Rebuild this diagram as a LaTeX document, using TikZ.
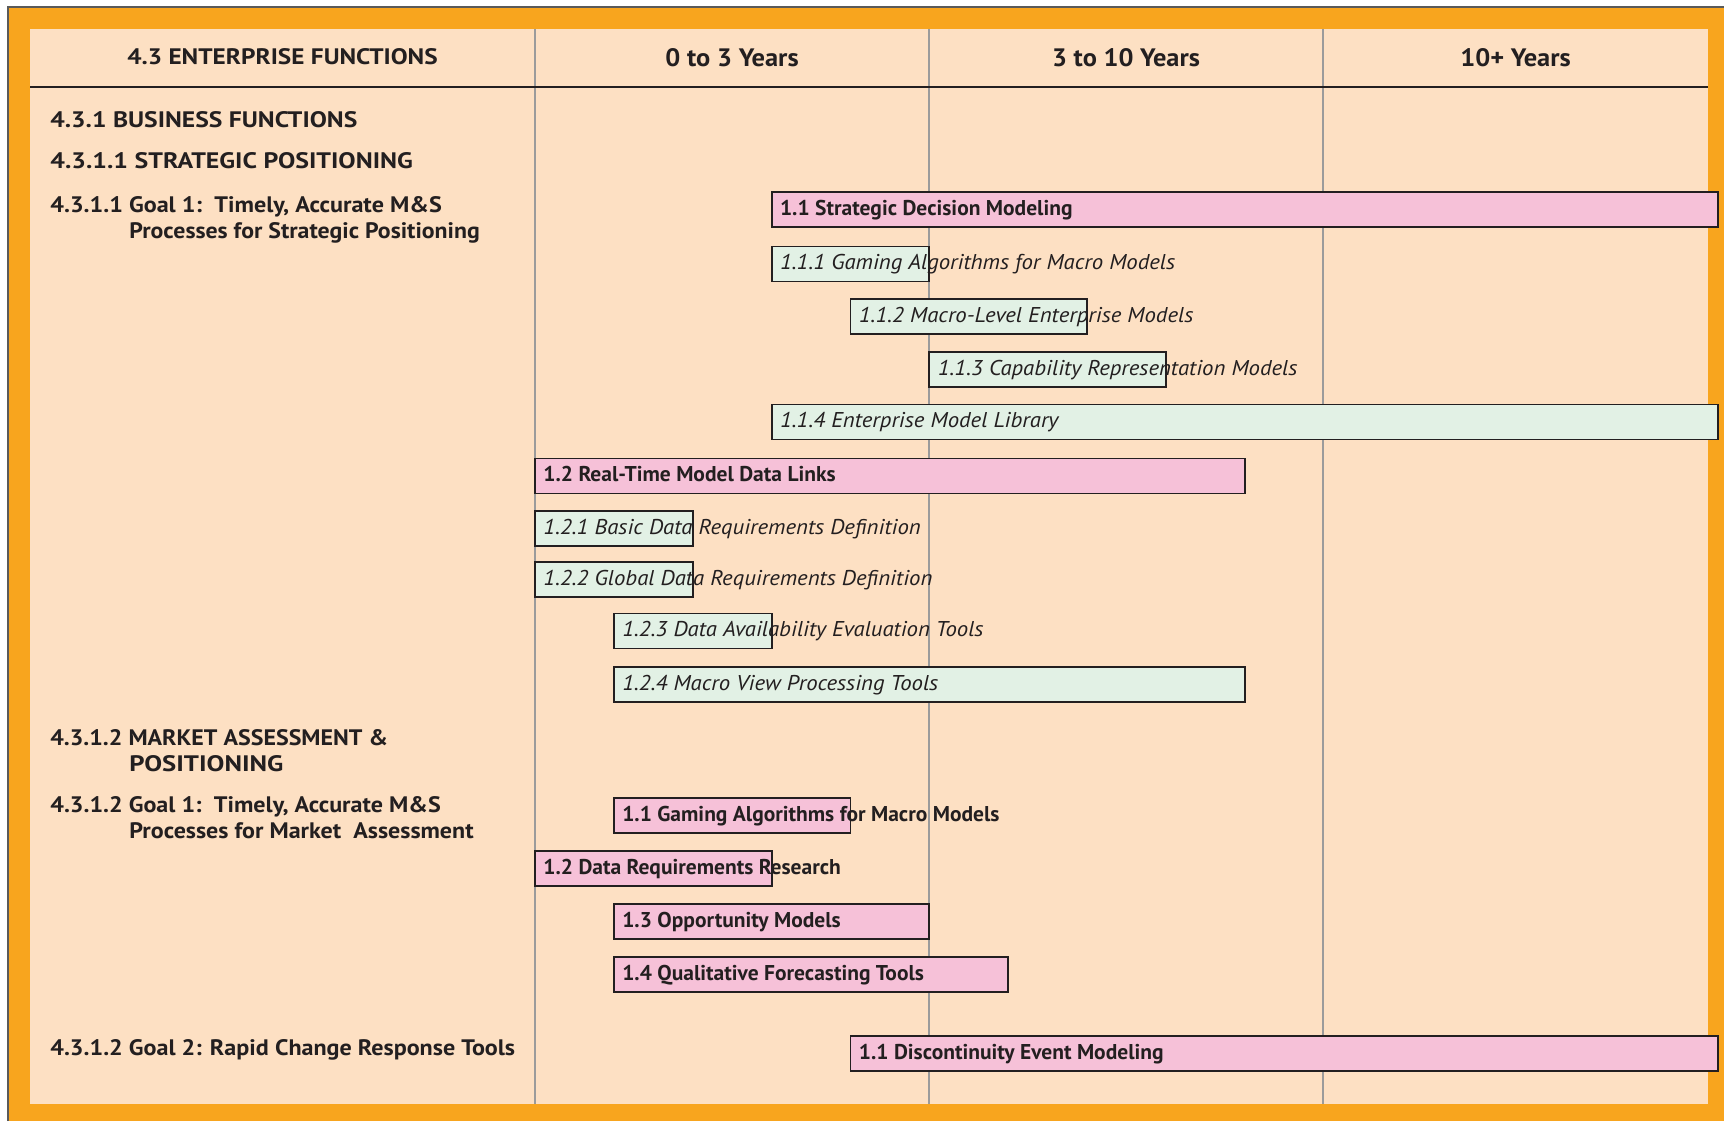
\documentclass[tikz,border=0pt]{standalone}
\usepackage{graphicx}
\usepackage{fontspec}
\setmainfont{PT Sans}
\definecolor{orng}{HTML}{F8A51E}
\definecolor{cream}{HTML}{FDE0C3}
\definecolor{pinkf}{HTML}{F6C1D8}
\definecolor{greenf}{HTML}{E2F1E5}
\definecolor{ink}{HTML}{231F20}
\definecolor{divgray}{HTML}{9B9B9B}
\definecolor{framegray}{HTML}{5A5A5A}
\tikzset{
  barbase/.style={draw=ink, line width=0.9pt, inner sep=0pt, outer sep=0pt, minimum height=17.5pt, anchor=north west},
  pinkbar/.style={barbase, fill=pinkf},
  greenbar/.style={barbase, fill=greenf},
  pinkbartxt/.style={anchor=base west, inner sep=0pt, text=ink, font=\fontsize{10.7}{12}\selectfont\bfseries},
  greenbartxt/.style={anchor=base west, inner sep=0pt, text=ink, font=\fontsize{10.7}{12}\selectfont\itshape},
  lefttxt/.style={anchor=base west, inner sep=0pt, text=ink, font=\fontsize{11.2}{13}\selectfont\bfseries},
  hdrtxt/.style={anchor=base, inner sep=0pt, text=ink, font=\fontsize{11.2}{13}\selectfont\bfseries},
  yeartxt/.style={anchor=base, inner sep=0pt, text=ink, font=\fontsize{12.6}{14}\selectfont\bfseries},
  divline/.style={draw=divgray, line width=1pt},
  hdrline/.style={draw=ink, line width=1pt}
}
\newcommand\hsc[2]{\scalebox{#1}[1]{#2}}
\newcommand\pinkbarwrap[1]{\hsc{1.005}{#1}}
\newcommand\greenbarwrap[1]{\hsc{1.065}{#1}}
\newcommand\gbar[6]{%
  \node[#1, minimum width={39.435pt*(#4-#3)}] (#2) at ({535+78.87*#3},#5) {};
  \node[#1txt] (#2t) at ([xshift=4pt,yshift=-11.5pt]#2.north west) {\csname #1wrap\endcsname{#6}};
}
\begin{document}
\begin{tikzpicture}[x=0.5pt,y=-0.5pt]
\useasboundingbox (0,0) rectangle (1724,1121);
\fill[white] (0,0) rectangle (1724,1121);
\fill[orng] (8,7) rectangle (1724,1121);
\draw[framegray, line width=0.6pt] (8,1121) -- (8,7) -- (1724,7);
\fill[cream] (30,29) rectangle (1708,1104);
% column dividers
\coordinate (d1t) at (535,29); \coordinate (d1b) at (535,1104);
\coordinate (d2t) at (929,29); \coordinate (d2b) at (929,1104);
\coordinate (d3t) at (1323,29); \coordinate (d3b) at (1323,1104);
\draw[divline] (d1t) -- (d1b);
\draw[divline] (d2t) -- (d2b);
\draw[divline] (d3t) -- (d3b);
\coordinate (hl) at (30,87); \coordinate (hr) at (1708,87);
\draw[hdrline] (hl) -- (hr);
% header
\node[hdrtxt] (h0) at (282.5,64) {\hsc{1.128}{4.3 ENTERPRISE FUNCTIONS}};
\node[yeartxt] (h1) at (732,66) {\hsc{1.05}{0 to 3 Years}};
\node[yeartxt] (h2) at (1126,66) {\hsc{1.047}{3 to 10 Years}};
\node[yeartxt] (h3) at (1515.5,66) {\hsc{1.05}{10+ Years}};
% left column
\node[lefttxt] (l1) at (50,127) {\hsc{1.143}{4.3.1 BUSINESS FUNCTIONS}};
\node[lefttxt] (l2) at (50,168) {\hsc{1.154}{4.3.1.1 STRATEGIC POSITIONING}};
\node[lefttxt] (l3) at (50,212) {\hsc{1.078}{4.3.1.1 Goal 1:\ \ Timely, Accurate M\&S}};
\node[lefttxt] (l3b) at (129,238) {\hsc{1.063}{Processes for Strategic Positioning}};
\node[lefttxt] (l4) at (50,745) {\hsc{1.07}{4.3.1.2 MARKET ASSESSMENT \&}};
\node[lefttxt] (l4b) at (129,771) {\hsc{1.19}{POSITIONING}};
\node[lefttxt] (l5) at (50,812) {\hsc{1.075}{4.3.1.2 Goal 1:\ \ Timely, Accurate M\&S}};
\node[lefttxt] (l5b) at (129,838) {\hsc{1.072}{Processes for Market\ \ Assessment}};
\node[lefttxt] (l6) at (50,1055) {\hsc{1.076}{4.3.1.2 Goal 2: Rapid Change Response Tools}};
% bars
\gbar{pinkbar}{s11}{3}{15}{192}{1.1 Strategic Decision Modeling}
\gbar{greenbar}{s111}{3}{5}{246.5}{1.1.1 Gaming Algorithms for Macro Models}
\gbar{greenbar}{s112}{4}{7}{299}{1.1.2 Macro-Level Enterprise Models}
\gbar{greenbar}{s113}{5}{8}{352}{1.1.3 Capability Representation Models}
\gbar{greenbar}{s114}{3}{15}{404.5}{1.1.4 Enterprise Model Library}
\gbar{pinkbar}{s12}{0}{9}{458.5}{1.2 Real-Time Model Data Links}
\gbar{greenbar}{s121}{0}{2}{511}{1.2.1 Basic Data Requirements Definition}
\gbar{greenbar}{s122}{0}{2}{562}{1.2.2 Global Data Requirements Definition}
\gbar{greenbar}{s123}{1}{3}{613.5}{1.2.3 Data Availability Evaluation Tools}
\gbar{greenbar}{s124}{1}{9}{667}{1.2.4 Macro View Processing Tools}
\gbar{pinkbar}{m11}{1}{4}{798}{1.1 Gaming Algorithms for Macro Models}
\gbar{pinkbar}{m12}{0}{3}{851}{1.2 Data Requirements Research}
\gbar{pinkbar}{m13}{1}{5}{904}{1.3 Opportunity Models}
\gbar{pinkbar}{m14}{1}{6}{957}{1.4 Qualitative Forecasting Tools}
\gbar{pinkbar}{g21}{4}{15}{1036}{1.1 Discontinuity Event Modeling}
\end{tikzpicture}
\end{document}
